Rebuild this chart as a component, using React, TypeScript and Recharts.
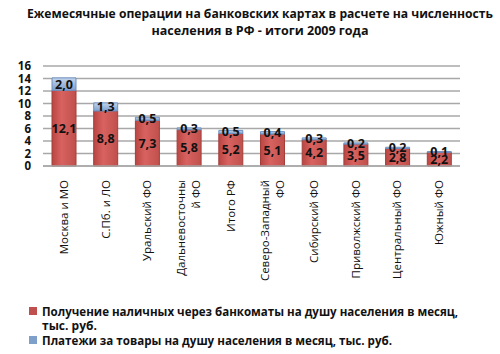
import React from "react";
import { BarChart, Bar, XAxis, YAxis, CartesianGrid, LabelList } from "recharts";

const regions = [
  "Москва и МО",
  "С.Пб. и ЛО",
  "Уральский ФО",
  "Дальневосточны|й ФО",
  "Итого РФ",
  "Северо-Западный|ФО",
  "Сибирский ФО",
  "Приволжский ФО",
  "Центральный ФО",
  "Южный ФО",
];
const cashWithdrawals = [12.1, 8.8, 7.3, 5.8, 5.2, 5.1, 4.2, 3.5, 2.8, 2.2];
const purchases = [2.0, 1.3, 0.5, 0.3, 0.5, 0.4, 0.3, 0.2, 0.2, 0.1];
const yTicks = [0, 2, 4, 6, 8, 10, 12, 14, 16];

const titleLines = [
  "Ежемесячные операции на банковских картах в расчете на численность",
  "населения в РФ - итоги 2009 года",
];
const legendCash = ["Получение наличных через банкоматы на душу населения в месяц,", "тыс. руб."];
const legendPay = ["Платежи за товары на душу населения в месяц, тыс. руб."];

const chartData = regions.map((r, i) => ({
  region: r,
  cash: cashWithdrawals[i],
  pay: purchases[i],
}));

const fmt = (v: number) => v.toFixed(1).replace(".", ",");

const RegionTick = (props: any) => {
  const { x, payload } = props;
  const lines = String(payload.value).split("|");
  const lh = 15;
  return (
    <g transform={`translate(${x},180)`}>
      <text
        transform="rotate(-90)"
        textAnchor="end"
        fontSize={11.5}
        fontFamily="'Open Sans', sans-serif"
        fill="#111"
      >
        {lines.map((l, i) => (
          <tspan key={i} x={0} y={(i - (lines.length - 1) / 2) * lh + 4}>
            {l}
          </tspan>
        ))}
      </text>
    </g>
  );
};

const txt = { fontFamily: "'Open Sans', sans-serif", fontWeight: 700, fill: "#111" } as const;
const barLabel = { fill: "#111", fontSize: 12.5, fontWeight: 700, fontFamily: "'Open Sans', sans-serif" };

export default function App() {
  return (
    <div style={{ position: "absolute", left: 0, top: 0, width: 500, height: 354, background: "#fff" }}>
      <BarChart
        width={500}
        height={354}
        data={chartData}
        margin={{ top: 66, right: 40, left: 0, bottom: 64 }}
        barSize={24}
      >
        <defs>
          <linearGradient id="gRed" x1="0" y1="0" x2="1" y2="0">
            <stop offset="0%" stopColor="#b94643" />
            <stop offset="40%" stopColor="#d8625f" />
            <stop offset="100%" stopColor="#c0504d" />
          </linearGradient>
          <linearGradient id="gBlue" x1="0" y1="0" x2="0" y2="1">
            <stop offset="0%" stopColor="#c3d5ec" />
            <stop offset="100%" stopColor="#7f9fcb" />
          </linearGradient>
        </defs>
        <CartesianGrid vertical={false} stroke="#a8a8a8" strokeWidth={1.5} />
        <XAxis
          dataKey="region"
          interval={0}
          height={124}
          tick={<RegionTick />}
          tickLine={false}
          axisLine={{ stroke: "#a8a8a8", strokeWidth: 1.5 }}
        />
        <YAxis
          domain={[0, 16]}
          ticks={yTicks}
          interval={0}
          width={43}
          tickSize={0}
          tickMargin={12}
          axisLine={false}
          tickLine={false}
          tick={{ fontSize: 11.5, fontWeight: 700, fill: "#111", fontFamily: "'Open Sans', sans-serif" }}
        />
        <Bar dataKey="cash" stackId="a" fill="url(#gRed)" stroke="#a33e3b" strokeWidth={1} isAnimationActive={false}>
          <LabelList dataKey="cash" position="center" formatter={(v: any) => fmt(Number(v))} {...barLabel} />
        </Bar>
        <Bar dataKey="pay" stackId="a" fill="url(#gBlue)" stroke="#6d8fbf" strokeWidth={1} isAnimationActive={false}>
          <LabelList dataKey="pay" position="center" formatter={(v: any) => fmt(Number(v))} {...barLabel} />
        </Bar>
      </BarChart>
      <svg width={500} height={354} style={{ position: "absolute", left: 0, top: 0, pointerEvents: "none" }}>
        <text x={260} y={18} textAnchor="middle" fontSize={12.5} textLength={466} lengthAdjust="spacingAndGlyphs" {...txt}>
          {titleLines[0]}
        </text>
        <text x={260} y={35} textAnchor="middle" fontSize={12.5} textLength={217} lengthAdjust="spacingAndGlyphs" {...txt}>
          {titleLines[1]}
        </text>
        <rect x={29} y={307} width={8} height={8} fill="#c0504d" />
        <text x={42} y={316} fontSize={12} textLength={416} lengthAdjust="spacingAndGlyphs" {...txt}>
          {legendCash[0]}
        </text>
        <text x={42} y={330} fontSize={12} {...txt}>
          {legendCash[1]}
        </text>
        <rect x={29} y={336} width={8} height={8} fill="#7f9fcb" />
        <text x={42} y={345} fontSize={12} textLength={350} lengthAdjust="spacingAndGlyphs" {...txt}>
          {legendPay[0]}
        </text>
      </svg>
    </div>
  );
}
